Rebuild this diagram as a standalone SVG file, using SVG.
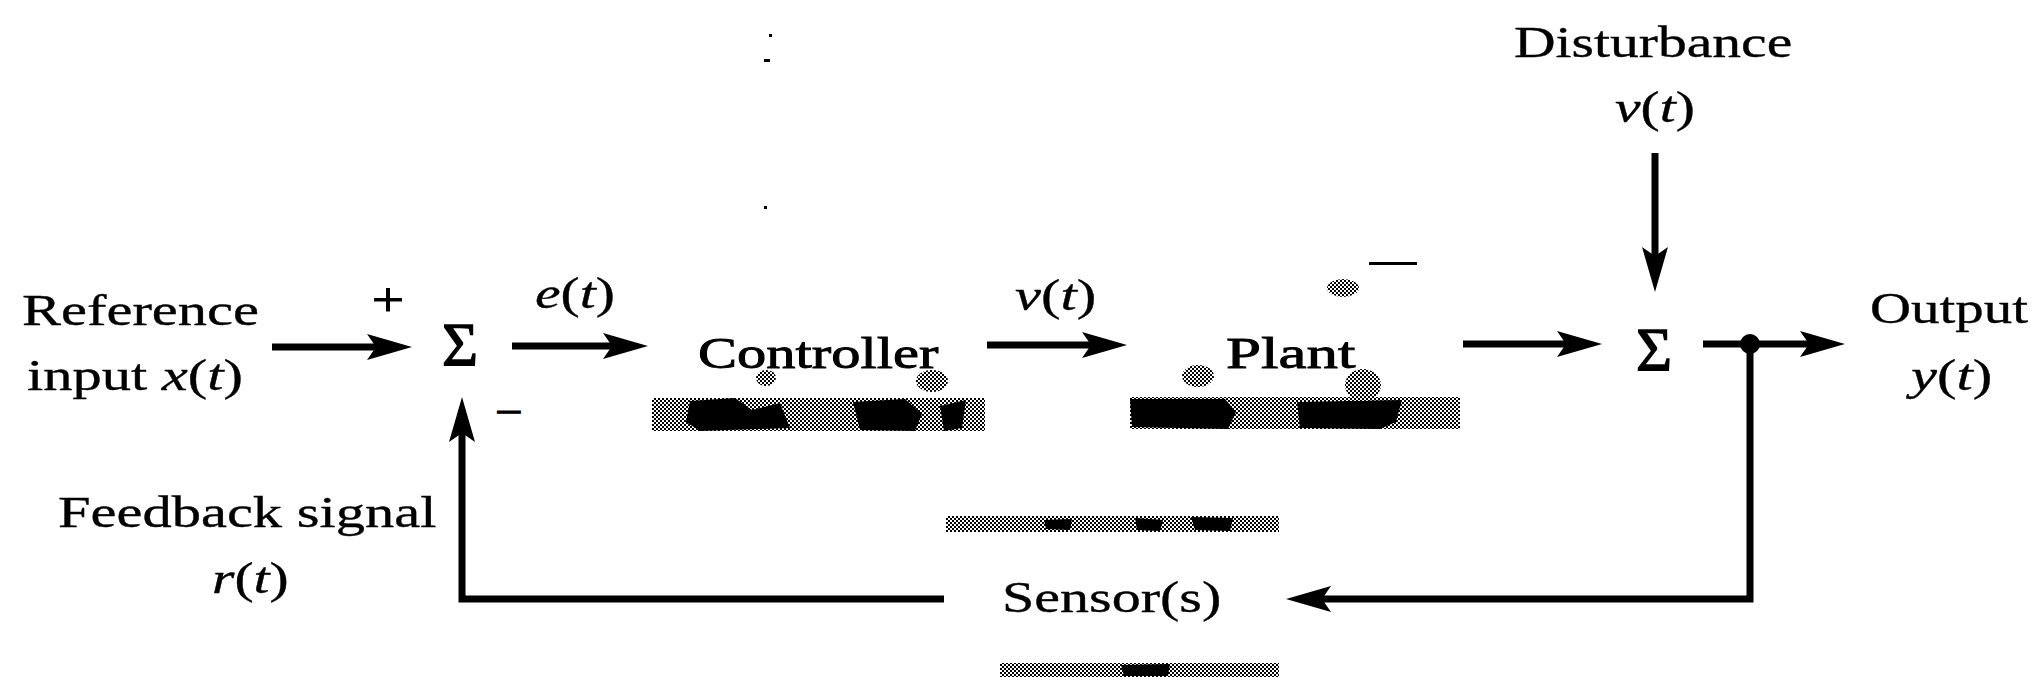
<svg xmlns="http://www.w3.org/2000/svg" width="2036" height="683" viewBox="0 0 2036 683">
<style>
.t{font-family:"Liberation Serif","Times New Roman",serif;font-size:45px;fill:#000;stroke:#000;stroke-width:0.35}
.b{stroke-width:0.9}
.i{font-style:italic}
.sig{font-family:"Liberation Serif","Times New Roman",serif;font-size:62px;fill:#000;stroke:#000;stroke-width:1.3;text-anchor:middle}
.ln{fill:none;stroke:#000;stroke-width:7;stroke-linejoin:miter}
.arr{marker-end:url(#ah)}
.stip{fill:url(#stip)}
.blot{fill:#000}
</style>
<defs>
<marker id="ah" markerUnits="userSpaceOnUse" viewBox="0 -14 46 28" refX="9" refY="0" markerWidth="46" markerHeight="28" orient="auto">
<path d="M45,0 L0,-13 L9,0 L0,13 Z" fill="#000"/>
</marker>
<pattern id="stip" width="4" height="4" patternUnits="userSpaceOnUse">
<rect width="4" height="4" fill="#fff"/>
<rect width="2" height="2" fill="#000"/>
<rect x="2" y="2" width="2" height="2" fill="#000"/>
</pattern>
</defs>
<rect width="2036" height="683" fill="#fff"/>

<g id="connectors">
<path class="ln arr" d="M272,347 H376"/>
<path class="ln arr" d="M512,346 H612"/>
<path class="ln arr" d="M987,345 H1091"/>
<path class="ln arr" d="M1463,344 H1566"/>
<path class="ln arr" d="M1703,344 H1809"/>
<path class="ln arr" d="M1655,153 V256"/>
<path class="ln arr" d="M1750,344 V599 H1322"/>
<path class="ln arr" d="M944,599 H462 V433"/>
<circle cx="1750" cy="344" r="10" fill="#000"/>
</g>

<g id="input-label">
<text class="t" transform="translate(22,325) scale(1.3,1)">Reference</text>
<text class="t" transform="translate(27,390) scale(1.3,1)">input <tspan class="i">x</tspan>(<tspan class="i">t</tspan>)</text>
</g>

<g id="sum1">
<text class="sig" x="460" y="365">Σ</text>
<text class="t b" transform="translate(388,316) scale(1.2,1)" style="font-size:48px" text-anchor="middle">+</text>
<text class="t b" transform="translate(509,427) scale(1.1,1)" text-anchor="middle">−</text>
</g>

<g id="error-label">
<text class="t" transform="translate(535,308) scale(1.28,1)"><tspan class="i">e</tspan>(<tspan class="i">t</tspan>)</text>
</g>

<g id="controller">
<rect class="stip" x="652" y="398" width="333" height="33"/>
<path class="blot" d="M690,401 L735,398 L752,410 L780,403 L790,428 L700,431 L686,422 Z"/>
<path class="blot" d="M853,402 L905,399 L922,414 L915,431 L860,430 Z"/>
<path class="blot" d="M940,406 L966,400 L962,428 L944,431 Z"/>
<ellipse class="stip" cx="766" cy="378" rx="10" ry="8"/>
<ellipse class="stip" cx="932" cy="381" rx="16" ry="11"/>
<text class="t b" transform="translate(698,368) scale(1.3,1)">Controller</text>
</g>

<g id="control-label">
<text class="t" transform="translate(1015,310) scale(1.3,1)"><tspan class="i">v</tspan>(<tspan class="i">t</tspan>)</text>
</g>

<g id="plant">
<rect class="stip" x="1130" y="397" width="330" height="32"/>
<path class="blot" d="M1130,399 L1225,399 L1236,412 L1228,429 L1132,427 Z"/>
<path class="blot" d="M1297,402 L1402,400 L1396,422 L1380,429 L1300,428 Z"/>
<ellipse class="stip" cx="1198" cy="376" rx="16" ry="11"/>
<ellipse class="stip" cx="1363" cy="385" rx="18" ry="16"/>
<ellipse class="stip" cx="1343" cy="288" rx="16" ry="9"/>
<rect x="1369" y="262" width="48" height="3" fill="#000"/>
<text class="t b" transform="translate(1226,368) scale(1.4,1)">Plant</text>
</g>

<g id="disturbance-label">
<text class="t" transform="translate(1514,57) scale(1.28,1)">Disturbance</text>
<text class="t" transform="translate(1615,122) scale(1.28,1)"><tspan class="i">ν</tspan>(<tspan class="i">t</tspan>)</text>
</g>

<g id="sum2">
<text class="sig" x="1654" y="370">Σ</text>
</g>

<g id="output-label">
<text class="t" transform="translate(1870,323) scale(1.264,1)">Output</text>
<text class="t" transform="translate(1911,390) scale(1.3,1)"><tspan class="i">y</tspan>(<tspan class="i">t</tspan>)</text>
</g>

<g id="sensor">
<rect class="stip" x="946" y="516" width="333" height="16"/>
<rect class="stip" x="1000" y="663" width="279" height="14"/>
<path class="blot" d="M1044,520 L1072,519 L1070,530 L1046,529 Z"/>
<path class="blot" d="M1135,518 L1163,520 L1160,531 L1137,530 Z"/>
<path class="blot" d="M1191,517 L1233,518 L1230,531 L1195,530 Z"/>
<path class="blot" d="M1121,665 L1170,664 L1168,676 L1124,676 Z"/>
<text class="t" transform="translate(1002,612) scale(1.29,1)">Sensor(s)</text>
</g>

<g id="feedback-label">
<text class="t" transform="translate(58,527) scale(1.3,1)">Feedback signal</text>
<text class="t" transform="translate(212,593) scale(1.28,1)"><tspan class="i">r</tspan>(<tspan class="i">t</tspan>)</text>
</g>

<g id="specks" fill="#000">
<rect x="769" y="34" width="3" height="3"/>
<rect x="764" y="59" width="6" height="3"/>
<rect x="764" y="206" width="3" height="3"/>
</g>
</svg>
